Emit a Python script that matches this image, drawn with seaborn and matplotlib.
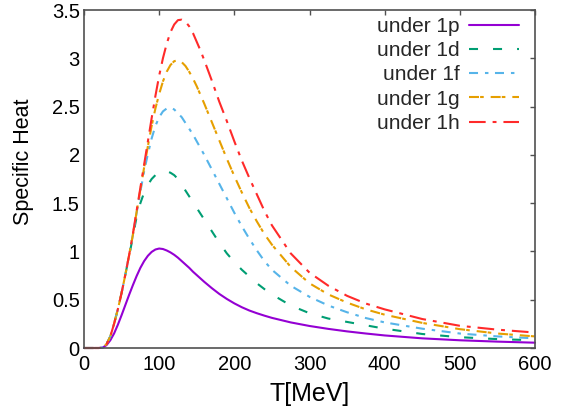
import matplotlib
matplotlib.use("Agg")
import matplotlib.pyplot as plt
import seaborn as sns
import pandas as pd

T = [0, 20, 25, 30, 35, 40, 45, 50, 55, 60, 65, 70, 75, 80, 85, 90, 95, 100, 105, 110,
     115, 120, 125, 130, 135, 140, 145, 150, 155, 160, 170, 180, 190, 200, 210, 220,
     230, 240, 250, 275, 300, 325, 350, 375, 400, 450, 500, 550, 600]

under_1p = [0, 0, 0.005, 0.03, 0.08, 0.15, 0.24, 0.34, 0.445, 0.55, 0.65, 0.745, 0.83, 0.90,
            0.955, 0.995, 1.02, 1.03, 1.025, 1.01, 0.99, 0.965, 0.935, 0.90, 0.865, 0.83,
            0.79, 0.755, 0.72, 0.685, 0.62, 0.56, 0.508, 0.462, 0.422, 0.388, 0.36, 0.335,
            0.312, 0.265, 0.228, 0.198, 0.172, 0.15, 0.13, 0.10, 0.08, 0.066, 0.055]
under_1d = [0, 0, 0.005, 0.04, 0.12, 0.25, 0.40, 0.57, 0.76, 0.95, 1.15, 1.36, 1.50, 1.61,
            1.69, 1.75, 1.79, 1.82, 1.83, 1.83, 1.815, 1.79, 1.75, 1.69, 1.63, 1.57,
            1.51, 1.45, 1.39, 1.33, 1.21, 1.09, 0.98, 0.89, 0.81, 0.74, 0.67, 0.61,
            0.555, 0.44, 0.36, 0.305, 0.27, 0.235, 0.20, 0.145, 0.112, 0.092, 0.08]
under_1f = [0, 0, 0.005, 0.04, 0.12, 0.25, 0.40, 0.57, 0.76, 0.96, 1.17, 1.40, 1.62, 1.83,
            2.01, 2.17, 2.30, 2.39, 2.45, 2.48, 2.49, 2.47, 2.43, 2.39, 2.33, 2.27,
            2.21, 2.14, 2.07, 2.00, 1.85, 1.70, 1.55, 1.40, 1.26, 1.13, 1.01, 0.90,
            0.81, 0.645, 0.53, 0.44, 0.37, 0.31, 0.265, 0.20, 0.15, 0.12, 0.10]
under_1g = [0, 0, 0.005, 0.04, 0.12, 0.25, 0.40, 0.57, 0.76, 0.96, 1.17, 1.41, 1.64, 1.87,
            2.09, 2.30, 2.48, 2.63, 2.76, 2.86, 2.93, 2.97, 2.98, 2.96, 2.92, 2.86,
            2.79, 2.71, 2.62, 2.53, 2.34, 2.15, 1.96, 1.78, 1.61, 1.45, 1.31, 1.18,
            1.07, 0.84, 0.67, 0.555, 0.47, 0.40, 0.345, 0.26, 0.195, 0.15, 0.12]
under_1h = [0, 0, 0.005, 0.04, 0.12, 0.25, 0.40, 0.57, 0.76, 0.96, 1.18, 1.42, 1.66, 1.90,
            2.14, 2.38, 2.61, 2.82, 3.00, 3.15, 3.27, 3.35, 3.395, 3.40, 3.38, 3.33,
            3.26, 3.17, 3.08, 2.98, 2.77, 2.55, 2.35, 2.14, 1.94, 1.76, 1.59, 1.42,
            1.27, 0.98, 0.78, 0.645, 0.54, 0.46, 0.40, 0.30, 0.23, 0.19, 0.16]

labels = ["under 1p", "under 1d", "under 1f", "under 1g", "under 1h"]
series = [under_1p, under_1d, under_1f, under_1g, under_1h]
colors = ["#9400d3", "#009e73", "#56b4e9", "#e69f00", "#ff2a2a"]
styles = ["-", (0, (6.5, 10.8)), (0, (6.5, 5, 2.5, 4.7)), (0, (7.2, 0.8, 2.6, 5)), (0, (12, 5, 2.8, 5))]

xticks = [0, 100, 200, 300, 400, 500, 600]
yticks = [0, 0.5, 1, 1.5, 2, 2.5, 3, 3.5]
ytick_labels = ["0", "0.5", "1", "1.5", "2", "2.5", "3", "3.5"]

sns.set_theme(style="white")
plt.rcParams["font.family"] = ["Liberation Sans", "DejaVu Sans"]
plt.rcParams["lines.scale_dashes"] = False

fig = plt.figure(figsize=(5.76, 4.12), dpi=100)
ax = fig.add_axes([84 / 576, 1 - 348 / 412, (535 - 84) / 576, (348 - 10) / 412])

for lab, vals, col, ls in zip(labels, series, colors, styles):
    df = pd.DataFrame({"T": T, "C": vals})
    sns.lineplot(data=df, x="T", y="C", ax=ax, color=col, linestyle=ls,
                 linewidth=1.5, label=lab, clip_on=False)

ax.set_xlim(0, 600)
ax.set_ylim(0, 3.5)
ax.set_xticks(xticks)
ax.set_xticklabels([str(v) for v in xticks])
ax.set_yticks(yticks)
ax.set_yticklabels(ytick_labels)
ax.tick_params(direction="in", length=3.5, width=1, colors="#505050",
               labelcolor="black", labelsize=14.5, top=True, right=True)
ax.tick_params(axis="x", pad=5)
ax.tick_params(axis="y", pad=3)
for s in ax.spines.values():
    s.set_color("#505050")
    s.set_linewidth(1.2)

ax.set_xlabel("T[MeV]", fontsize=18, color="black")
ax.set_ylabel("Specific Heat", fontsize=15.5, color="black")
ax.xaxis.set_label_coords(0.5, -0.10)
ax.yaxis.set_label_coords(-0.11, 0.55)

leg = ax.legend(loc="upper right", frameon=False, markerfirst=False, fontsize=15,
                handlelength=2.4, handletextpad=0.45, labelspacing=0.25,
                borderaxespad=0, borderpad=0,
                bbox_to_anchor=(519 / 576, 1 - 17 / 412), bbox_transform=fig.transFigure)

fig.savefig("out.png", dpi=100)
